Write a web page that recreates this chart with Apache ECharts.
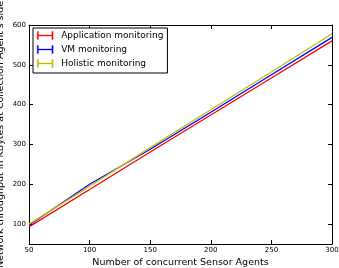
<!DOCTYPE html>
<html><head><meta charset="utf-8">
<script src="https://cdn.jsdelivr.net/npm/echarts@6/dist/echarts.min.js"></script>
<style>html,body{margin:0;padding:0;background:#fff}#c{width:339px;height:268px}</style>
</head><body><div id="c"></div>
<script>
const agents = [50, 100, 150, 200, 250, 300];
const appMonitoring = [93, 187, 281, 374, 467, 560];
const vmMonitoring = [97, 200, 288, 381, 475, 569];
const holisticMonitoring = [100, 195, 292, 387, 482, 578];
const seriesNames = ['Application monitoring', 'VM monitoring', 'Holistic monitoring'];
const xTicks = [50, 100, 150, 200, 250, 300];
const yTicks = [100, 200, 300, 400, 500, 600];

const colors = ['#ff0000', '#0000ff', '#bfbf00'];
const hIcon = 'path://M0,0L1.6,0L1.6,4.3L18.4,4.3L18.4,0L20,0L20,10L18.4,10L18.4,5.7L1.6,5.7L1.6,10L0,10Z';
const font = 'DejaVu Sans';
const chart = echarts.init(document.getElementById('c'), null, {renderer: 'canvas'});
const pair = (vals) => agents.map((a, i) => [a, vals[i]]);
const allVals = [appMonitoring, vmMonitoring, holisticMonitoring];

const xBase = {
  type: 'value', min: 50, max: 300, interval: 50,
  axisLine: {show: true, onZero: false, lineStyle: {color: '#000', width: 1}},
  axisTick: {show: true, inside: true, length: 4, lineStyle: {color: '#000'}},
  splitLine: {show: false}
};
const yBase = {
  type: 'value', min: 50, max: 600,
  axisLine: {show: true, onZero: false, lineStyle: {color: '#000', width: 1}},
  axisTick: {show: true, inside: true, length: 4, customValues: yTicks, lineStyle: {color: '#000'}},
  splitLine: {show: false}
};

chart.setOption({
  animation: false,
  grid: {left: 29, right: 7, top: 25, bottom: 24, containLabel: false, outerBoundsMode: 'none'},
  legend: {
    left: 33, top: 28, orient: 'vertical',
    data: seriesNames.map((n, i) => ({name: n, icon: hIcon,
      itemStyle: {color: colors[i], borderColor: colors[i], borderWidth: 0.3, opacity: 1}})),
    itemWidth: 16, itemHeight: 8, itemGap: 5,
    padding: [3, 4, 5, 4],
    borderColor: '#000', borderWidth: 1, backgroundColor: '#fff',
    textStyle: {fontFamily: font, fontSize: 9, color: '#000', padding: [0, 0, 0, 3]}
  },
  xAxis: [
    Object.assign({}, xBase, {
      position: 'bottom',
      name: 'Number of concurrent Sensor Agents', nameLocation: 'middle', nameGap: 14,
      nameMoveOverlap: false,
      nameTextStyle: {fontFamily: font, fontSize: 9.5, color: '#000'},
      axisLabel: {show: true, fontFamily: font, fontSize: 7, color: '#000', margin: 3}
    }),
    Object.assign({}, xBase, {position: 'top', axisLabel: {show: false}})
  ],
  yAxis: [
    Object.assign({}, yBase, {
      position: 'left',
      name: "Network throughput in KBytes at Collection Agent's side", nameLocation: 'middle', nameGap: 23,
      nameMoveOverlap: false,
      nameTextStyle: {fontFamily: font, fontSize: 9.5, color: '#000'},
      axisLabel: {show: true, customValues: yTicks, fontFamily: font, fontSize: 7, color: '#000', margin: 3}
    }),
    Object.assign({}, yBase, {position: 'right', axisLabel: {show: false}})
  ],
  series: seriesNames.map((n, i) => ({
    name: n, type: 'line', data: pair(allVals[i]),
    showSymbol: false, symbol: 'none',
    itemStyle: {color: colors[i]},
    lineStyle: {color: colors[i], width: 1.3}
  }))
});
</script></body></html>
